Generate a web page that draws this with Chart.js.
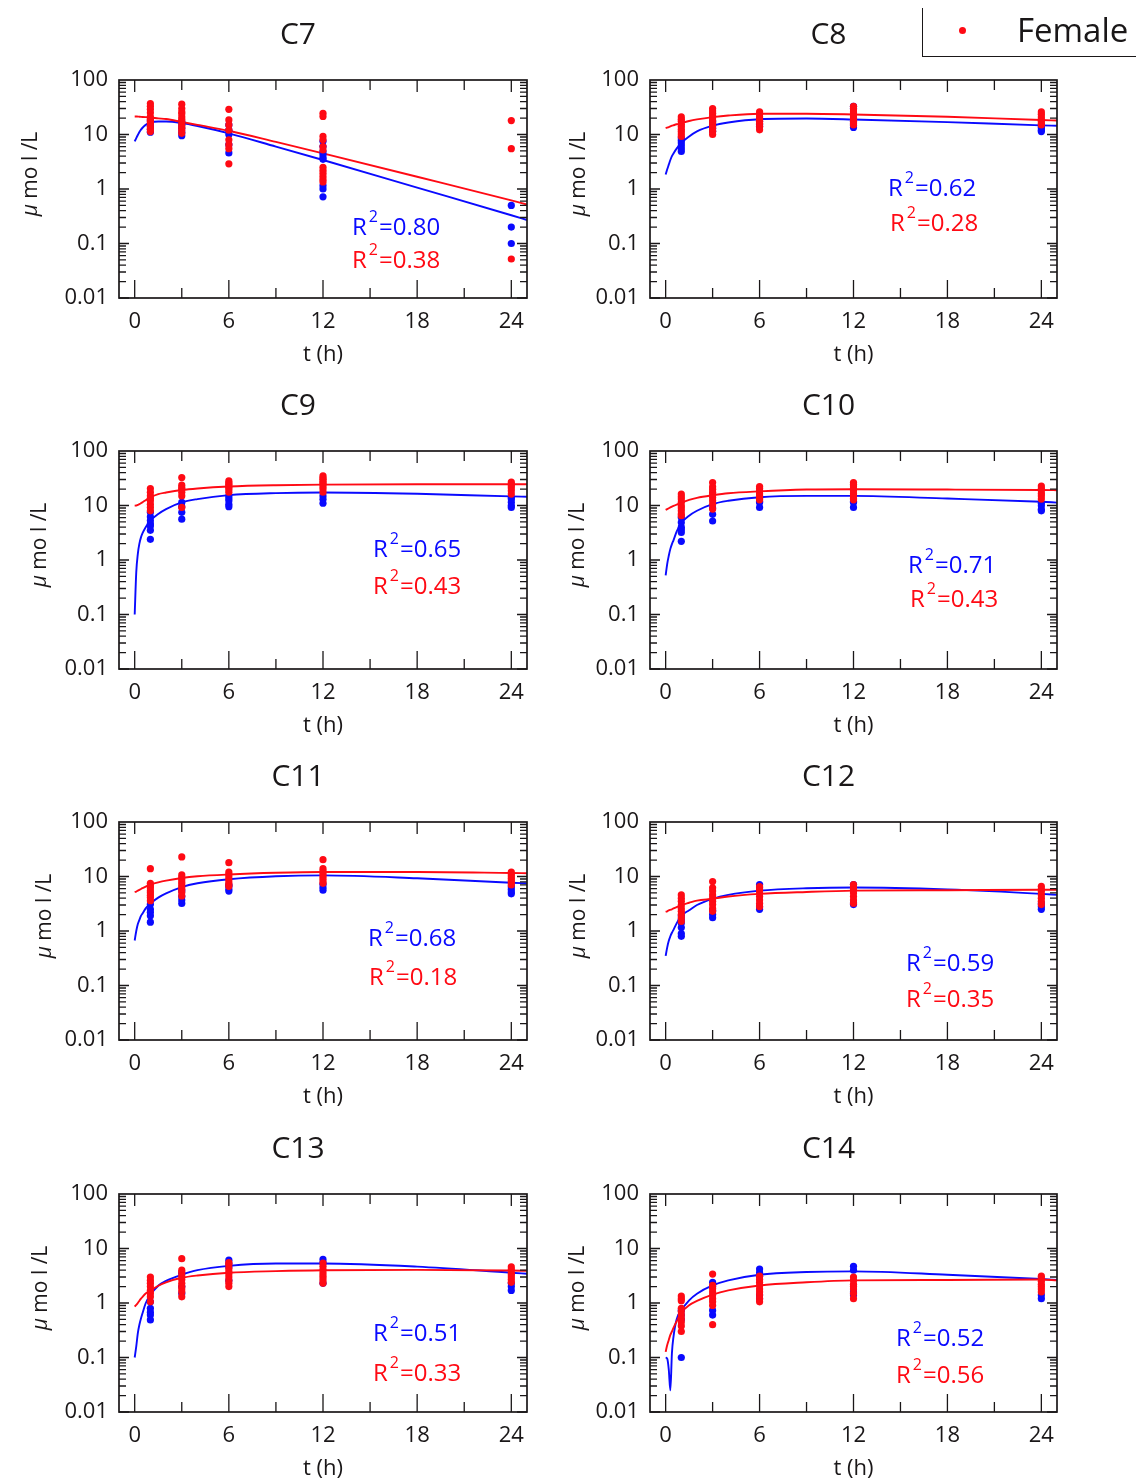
<!DOCTYPE html>
<html>
<head>
<meta charset="utf-8">
<title>C7 - C14 time profiles</title>
<script src="https://cdn.jsdelivr.net/npm/chart.js@4.4.1/dist/chart.umd.min.js"></script>
<style>
  html, body { margin: 0; padding: 0; background: #fff; }
  body { width: 1136px; height: 1479px; position: relative; overflow: hidden; font-family: "Open Sans", sans-serif; }
  .panel { position: absolute; }
  #legend { position: absolute; left: 922px; top: 8px; width: 230px; height: 48px; border-left: 1.5px solid #1a1718; border-bottom: 1.5px solid #1a1718; z-index: 5; }
  #legend .dot { position: absolute; left: 36px; top: 19px; width: 7px; height: 7px; border-radius: 50%; background: #ff0a14; }
  #legend .txt { position: absolute; left: 94px; top: 5px; font-size: 33px; line-height: 33px; color: #1a1718; font-weight: 500; }
</style>
</head>
<body>
<div id="legend"><span class="dot"></span><span class="txt">Female</span></div>
<script>
// sampling times (h) and the grid the fitted curves were read at
const sampleTimes = [1, 3, 6, 12, 24];
const fitTimes = [0, 0.1, 0.2, 0.3, 0.4, 0.5, 0.7, 1, 1.5, 2, 3, 4, 6, 9, 12, 18, 24, 25];
const xTicks = [0, 6, 12, 18, 24];
const yTicks = [0.01, 0.1, 1, 10, 100];
const yTickLabels = ["0.01", "0.1", "1", "10", "100"];
const panelNames = ["C7", "C8", "C9", "C10", "C11", "C12", "C13", "C14"];
const r2Male = ["0.80", "0.62", "0.65", "0.71", "0.68", "0.59", "0.51", "0.52"];
const r2Female = ["0.38", "0.28", "0.43", "0.43", "0.18", "0.35", "0.33", "0.56"];

// measured points, one list per sampling time (umol/L)
const c7Male = [[11, 12.5, 14, 16, 18], [9.5, 11, 13, 15, 17], [15, 12, 10, 6.5, 4.6], [7.5, 6, 4.8, 4.3, 3.8, 3.5, 1.15, 1.0, 0.72], [0.5, 0.2, 0.1]];
const c7Female = [[37, 33, 29, 25, 21, 19, 17.5, 16, 14, 12.5, 11.3], [36, 30, 26, 24, 21, 19, 17, 15, 13.5, 12, 10.5], [29, 18.5, 15, 12, 8, 6.5, 5.5, 2.9], [24.5, 21.5, 9.2, 8, 6, 5.2, 2.5, 2.2, 1.95, 1.7, 1.5, 1.35], [18, 5.5, 0.052]];
const c8Male = [[4.9, 5.5, 6.2, 7.0, 7.8, 8.6], [11.5, 13, 14.5, 16, 17.5], [14, 15.5, 17.5, 19], [13.5, 15, 17, 30, 33], [11.3, 12, 13.1, 14]];
const c8Female = [[21, 19, 17.5, 15.5, 14, 12.5, 11.3, 10.2, 9.2], [30, 27, 24.5, 22, 20, 18, 16.2, 14.5, 13.1, 11.5, 10], [26, 23.5, 21, 19, 17.5, 16, 14, 12.2], [33, 29.5, 26, 23.5, 21, 19, 17.5, 16, 15], [26, 23.5, 21, 19, 17.5, 16, 15]];
const c9Male = [[7.5, 6.2, 5.3, 4.6, 4.2, 3.5, 2.4], [11.4, 9.5, 7.5, 5.6], [15, 13.5, 12.2, 10.5, 9.5], [15, 13, 11], [14, 13.1, 11.5, 10, 9.2]];
const c9Female = [[20.5, 17.5, 15, 13.5, 12.2, 10.5, 9.2, 8.0], [32.6, 23.6, 21, 20, 17.5, 15, 9.2], [28.3, 26, 24.5, 22.5, 21.4, 19.5, 17.5], [35, 32, 30.4, 28, 26, 24.5, 22, 20, 17.5], [27, 25, 23, 21, 18.6, 16.2]];
const c10Male = [[6, 4.9, 4.0, 3.6, 3.2, 2.2], [9, 6.9, 5.2], [12, 11.3, 9.2], [12, 11.3, 9.2], [11, 9.9, 8.5, 8.0]];
const c10Female = [[16.2, 14.5, 13.1, 11.5, 9.9, 9, 8.0, 7, 6.5], [26.3, 22, 19.9, 17.5, 16.2, 14, 12.2, 10.5, 8.6], [22.3, 20.5, 18.6, 16.5, 15, 13.5, 12.7], [26.3, 24.5, 22.8, 20.5, 18.6, 16.5, 15, 13.5, 12.7], [22.8, 20.5, 18.6, 16.5, 15, 13.1]];
const c11Male = [[3.1, 2.5, 2.2, 1.9, 1.45], [5.5, 4.3, 3.7, 3.2], [7, 6.7, 5.9, 5.4], [7.2, 6.3, 5.6], [6.5, 5.8, 5.2, 4.8]];
const c11Female = [[13.9, 7.5, 6.8, 6.2, 5.5, 5.0, 4.5, 4.1, 3.6], [22.9, 10.7, 9.6, 8.7, 7.8, 7.0, 6.4, 5.8, 5.1, 4.4], [17.9, 12.1, 11, 9.9, 8.9, 7.9, 7.2, 6.6], [20.4, 13.9, 12.5, 11.3, 10.2, 9.2, 8.3, 7.5], [12.1, 11.1, 10.2, 9.3, 8.4, 7.7, 7.0]];
const c12Male = [[1.9, 1.63, 1.4, 1.16, 0.9, 0.8], [2.4, 2.0, 1.75], [7.1, 6.2, 2.8, 2.5], [7.1, 3.3, 3.05], [3.2, 2.8, 2.5]];
const c12Female = [[4.6, 4.0, 3.5, 3.0, 2.6, 2.3, 2.0, 1.75, 1.5], [8.1, 6.2, 5.4, 4.6, 4.0, 3.5, 3.05, 2.6, 2.3], [6.5, 5.7, 5.0, 4.3, 3.7, 3.2, 2.8], [7.1, 6.3, 5.7, 5.0, 4.3, 3.7, 3.2], [6.6, 5.9, 5.3, 4.6, 4.0, 3.5, 3.05]];
const c13Male = [[1.05, 0.8, 0.68, 0.6, 0.49], [3.5, 2.0, 1.5], [6.1, 5.3, 4.6, 2.6], [6.3, 5.5, 2.3], [2.3, 2.0, 1.7]];
const c13Female = [[3.0, 2.6, 2.3, 2.0, 1.7, 1.5, 1.3, 1.05], [6.5, 4.0, 3.6, 3.1, 2.7, 2.3, 2.0, 1.8, 1.6, 1.3], [5.5, 5.0, 4.3, 3.8, 3.4, 3.0, 2.6, 2.3, 2.0], [5.4, 4.7, 4.1, 3.6, 3.2, 2.9, 2.6, 2.3], [4.6, 4.1, 3.6, 3.3, 3.0, 2.7, 2.4]];
const c14Male = [[0.73, 0.6, 0.5, 0.1], [2.4, 2.0, 0.73, 0.6], [4.2, 3.6, 3.1, 1.4, 1.2], [4.7, 4.0, 1.6, 1.4], [1.4, 1.2]];
const c14Female = [[1.34, 1.2, 1.1, 0.8, 0.7, 0.6, 0.52, 0.45, 0.38, 0.3], [3.4, 2.1, 1.85, 1.6, 1.4, 1.2, 1.05, 0.9, 0.4], [3.1, 2.7, 2.4, 2.1, 1.8, 1.6, 1.4, 1.2, 1.05], [3.0, 2.6, 2.2, 2.0, 1.8, 1.5, 1.2], [3.1, 2.8, 2.5, 2.2, 2.0, 1.8, 1.6]];

// fitted curves, one value per fitTimes entry
const c7MaleFit = [7.5, 8.6, 9.8, 11.1, 12.3, 13.3, 15.0, 16.5, 17.3, 17.3, 16.2, 14.3, 10.5, 6.0, 3.4, 1.06, 0.33, 0.27];
const c7FemaleFit = [21.4, 21.4, 21.3, 21.2, 21.1, 21.0, 20.8, 20.5, 19.8, 19.2, 17.0, 15.0, 11.7, 7.3, 4.5, 1.68, 0.62, 0.52];
const c8MaleFit = [1.85, 2.3, 2.8, 3.4, 4.0, 4.5, 5.5, 7.0, 9.2, 11.4, 14.5, 16.6, 19.1, 19.6, 18.9, 16.9, 14.7, 14.5];
const c8FemaleFit = [13.1, 13.4, 13.7, 14.1, 14.5, 14.8, 15.4, 16.2, 17.7, 18.9, 20.8, 22.3, 24, 24, 23.3, 21.2, 18.4, 18.1];
const c9MaleFit = [0.1, 0.6, 1.3, 2.0, 2.6, 3.1, 4.0, 5.3, 7.0, 8.6, 11.4, 13.1, 15.5, 16.9, 17.3, 16.4, 14.7, 14.5];
const c9FemaleFit = [9.9, 10.0, 10.3, 10.6, 11.0, 11.5, 12.5, 14.1, 16.2, 17.3, 19.2, 20.5, 22.3, 23.6, 24.2, 24.5, 24.5, 24.5];
const c10MaleFit = [0.52, 0.85, 1.2, 1.6, 1.96, 2.3, 3.3, 4.75, 6.5, 8.0, 10.6, 12.2, 14.2, 15.0, 15.0, 13.4, 11.7, 11.3];
const c10FemaleFit = [8.3, 8.6, 8.9, 9.2, 9.5, 9.8, 10.4, 11.3, 12.7, 13.8, 15.4, 16.8, 18.2, 19.6, 19.9, 19.6, 19.2, 19.1];
const c11MaleFit = [0.67, 1.0, 1.34, 1.6, 1.9, 2.1, 2.6, 3.2, 4.1, 4.9, 6.4, 7.5, 8.9, 10.1, 10.5, 9.3, 7.7, 7.5];
const c11FemaleFit = [5.2, 5.3, 5.5, 5.7, 5.9, 6.1, 6.5, 7.1, 7.8, 8.4, 9.4, 10.1, 10.9, 11.7, 12.1, 12.1, 11.6, 11.5];
const c12MaleFit = [0.35, 0.5, 0.66, 0.8, 0.93, 1.05, 1.38, 1.9, 2.4, 3.0, 3.9, 4.6, 5.5, 6.1, 6.3, 5.8, 4.8, 4.6];
const c12FemaleFit = [2.25, 2.3, 2.4, 2.45, 2.5, 2.6, 2.75, 3.0, 3.3, 3.6, 3.9, 4.3, 4.8, 5.2, 5.5, 5.6, 5.7, 5.7];
const c13MaleFit = [0.1, 0.16, 0.28, 0.4, 0.52, 0.65, 0.99, 1.4, 2.07, 2.55, 3.3, 4.0, 4.8, 5.3, 5.3, 4.65, 3.6, 3.45];
const c13FemaleFit = [0.86, 0.92, 1.0, 1.1, 1.2, 1.3, 1.5, 1.7, 2.07, 2.4, 2.9, 3.2, 3.6, 3.85, 4.0, 4.05, 3.95, 3.9];
const c14MaleFit = [0.1, 0.095, 0.06, 0.025, 0.12, 0.24, 0.5, 0.73, 1.12, 1.48, 2.1, 2.6, 3.3, 3.7, 3.8, 3.3, 2.75, 2.65];
const c14FemaleFit = [0.127, 0.17, 0.21, 0.26, 0.30, 0.35, 0.46, 0.67, 0.91, 1.09, 1.42, 1.7, 2.1, 2.4, 2.6, 2.65, 2.7, 2.6];

const panelData = [
  {male: c7Male, female: c7Female, maleFit: c7MaleFit, femaleFit: c7FemaleFit},
  {male: c8Male, female: c8Female, maleFit: c8MaleFit, femaleFit: c8FemaleFit},
  {male: c9Male, female: c9Female, maleFit: c9MaleFit, femaleFit: c9FemaleFit},
  {male: c10Male, female: c10Female, maleFit: c10MaleFit, femaleFit: c10FemaleFit},
  {male: c11Male, female: c11Female, maleFit: c11MaleFit, femaleFit: c11FemaleFit},
  {male: c12Male, female: c12Female, maleFit: c12MaleFit, femaleFit: c12FemaleFit},
  {male: c13Male, female: c13Female, maleFit: c13MaleFit, femaleFit: c13FemaleFit},
  {male: c14Male, female: c14Female, maleFit: c14MaleFit, femaleFit: c14FemaleFit}
];

// where each panel sits on the page; r2 = [dx, dy] of the labels inside the plot box
const rowTops = [0, 371, 742, 1114];
const panelLayout = [
  {yTitleDx: -88, r2: [[233, 146], [233, 179]]},
  {yTitleDx: -71, r2: [[238, 107], [240, 142]]},
  {yTitleDx: -79, r2: [[254, 97], [254, 134]]},
  {yTitleDx: -72, r2: [[258, 113], [260, 147]]},
  {yTitleDx: -74, r2: [[249, 115], [250, 154]]},
  {yTitleDx: -71, r2: [[256, 140], [256, 176]]},
  {yTitleDx: -78, r2: [[254, 138], [254, 178]]},
  {yTitleDx: -72, r2: [[246, 143], [246, 180]]}
];

const ink = "#1a1718";
const maleColor = "#0a0aff";
const femaleColor = "#ff0a14";
const font = '"Open Sans", sans-serif';

function scatterPoints(cols) {
  let pts = [];
  cols.forEach(function(vals, i) {
    vals.forEach(function(v) { pts.push({x: sampleTimes[i], y: v}); });
  });
  return pts;
}

function curvePoints(vals) {
  return fitTimes.map(function(t, i) { return {x: t, y: vals[i]}; });
}

function drawR2(ctx, x, yc, value, color) {
  let base = yc + 8.5;
  ctx.fillStyle = color;
  ctx.textAlign = "left";
  ctx.textBaseline = "alphabetic";
  ctx.font = "24px " + font;
  ctx.fillText("R", x, base);
  let w = ctx.measureText("R").width + 2;
  ctx.font = "16px " + font;
  ctx.fillText("2", x + w, base - 13);
  w += ctx.measureText("2").width + 1;
  ctx.font = "24px " + font;
  ctx.fillText("=" + value, x + w, base);
}

// box, inward ticks, titles and R2 labels
const framePlugin = {
  id: "frame",
  afterDatasetsDraw(chart, args, opts) {
    const ctx = chart.ctx, a = chart.chartArea;
    const xs = chart.scales.x, ys = chart.scales.y;
    ctx.save();
    ctx.strokeStyle = ink;
    ctx.lineWidth = 1.3;
    ctx.beginPath();
    for (let t = 0; t <= 24; t += 3) {
      let px = xs.getPixelForValue(t);
      let major = t % 6 === 0;
      ctx.moveTo(px, a.bottom); ctx.lineTo(px, a.bottom - (major ? 18 : 10));
      ctx.moveTo(px, a.top); ctx.lineTo(px, a.top + (major ? 12 : 10));
    }
    for (let e = -2; e < 2; e++) {
      for (let m = 1; m < 10; m++) {
        let py = ys.getPixelForValue(m * Math.pow(10, e));
        let len = m === 1 ? 10 : 7;
        ctx.moveTo(a.left, py); ctx.lineTo(a.left + len, py);
        ctx.moveTo(a.right, py); ctx.lineTo(a.right - len, py);
      }
    }
    ctx.stroke();
    ctx.lineWidth = 1.7;
    ctx.strokeRect(a.left, a.top, a.right - a.left, a.bottom - a.top);
    ctx.restore();
  },
  afterDraw(chart, args, opts) {
    const ctx = chart.ctx, a = chart.chartArea;
    ctx.save();
    ctx.fillStyle = ink;
    ctx.textAlign = "center";
    ctx.textBaseline = "alphabetic";
    ctx.font = "500 30px " + font;
    ctx.fillText(opts.name, (a.left + a.right) / 2 - 25, a.top - 36);

    // rotated y title
    ctx.translate(a.left + opts.yTitleDx, (a.top + a.bottom) / 2 - 15);
    ctx.rotate(-Math.PI / 2);
    ctx.textAlign = "left";
    ctx.textBaseline = "middle";
    ctx.font = "italic 500 21px " + font;
    let wMu = ctx.measureText("\u03bc").width;
    ctx.font = "500 21px " + font;
    let wRest = ctx.measureText(" mo l /L").width;
    let start = -(wMu + wRest) / 2;
    ctx.font = "italic 500 21px " + font;
    ctx.fillText("\u03bc", start, 0);
    ctx.font = "500 21px " + font;
    ctx.fillText(" mo l /L", start + wMu, 0);
    ctx.restore();

    ctx.save();
    drawR2(ctx, a.left + opts.r2[0][0], a.top + opts.r2[0][1], opts.r2Male, maleColor);
    drawR2(ctx, a.left + opts.r2[1][0], a.top + opts.r2[1][1], opts.r2Female, femaleColor);
    ctx.restore();
  }
};

function yLabel(v) {
  let i = yTicks.findIndex(function(t) { return Math.abs(Math.log10(t) - Math.log10(v)) < 1e-6; });
  return i < 0 ? "" : yTickLabels[i];
}

panelData.forEach(function(d, i) {
  let right = i % 2 === 1;
  let lay = panelLayout[i];
  let w = right ? 596 : 540;
  let h = 371;
  let div = document.createElement("div");
  div.className = "panel";
  div.style.left = (right ? 540 : 0) + "px";
  div.style.top = rowTops[Math.floor(i / 2)] + "px";
  let canvas = document.createElement("canvas");
  canvas.width = w;
  canvas.height = h;
  div.appendChild(canvas);
  document.body.appendChild(div);

  let tickFont = {family: font, size: 22, weight: 500};
  new Chart(canvas, {
    type: "scatter",
    data: {
      // first dataset is drawn on top
      datasets: [
        {label: "Female", data: scatterPoints(d.female), backgroundColor: femaleColor, borderWidth: 0, pointRadius: 3.6},
        {label: "Male", data: scatterPoints(d.male), backgroundColor: maleColor, borderWidth: 0, pointRadius: 3.6},
        {label: "Female fit", data: curvePoints(d.femaleFit), showLine: true, borderColor: femaleColor, borderWidth: 1.9, pointRadius: 0, cubicInterpolationMode: "monotone"},
        {label: "Male fit", data: curvePoints(d.maleFit), showLine: true, borderColor: maleColor, borderWidth: 1.9, pointRadius: 0, cubicInterpolationMode: "monotone"}
      ]
    },
    options: {
      responsive: false,
      animation: false,
      devicePixelRatio: 1,
      events: [],
      layout: {padding: {top: 80, right: right ? 79 : 13, left: 0, bottom: 0}},
      plugins: {
        legend: {display: false},
        tooltip: {enabled: false},
        frame: {name: panelNames[i], yTitleDx: lay.yTitleDx, r2: lay.r2, r2Male: r2Male[i], r2Female: r2Female[i]}
      },
      scales: {
        x: {
          type: "linear", min: -1, max: 25, bounds: "data",
          grid: {display: false, drawTicks: false},
          border: {display: false},
          afterBuildTicks: function(s) { s.ticks = xTicks.map(function(v) { return {value: v}; }); },
          afterFit: function(s) { s.height = 73; },
          ticks: {font: tickFont, color: ink, padding: 11, maxRotation: 0, autoSkip: false},
          title: {display: true, text: "t (h)", font: tickFont, color: ink, padding: {top: 0, bottom: 3}}
        },
        y: {
          type: "logarithmic", min: 0.01, max: 100, bounds: "data",
          grid: {display: false, drawTicks: false},
          border: {display: false},
          afterBuildTicks: function(s) { s.ticks = yTicks.map(function(v) { return {value: v}; }); },
          afterFit: function(s) { s.width = right ? 110 : 119; },
          ticks: {font: tickFont, color: ink, padding: 11, autoSkip: false, callback: yLabel}
        }
      }
    },
    plugins: [framePlugin]
  });
});
</script>
</body>
</html>
